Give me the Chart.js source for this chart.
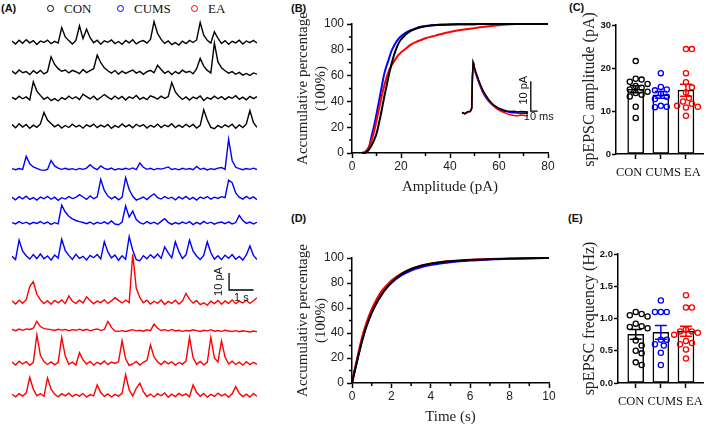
<!DOCTYPE html>
<html>
<head>
<meta charset="utf-8">
<script src="https://cdn.jsdelivr.net/npm/chart.js@4.4.0/dist/chart.umd.min.js"></script>
<style>
  body { margin: 0; background: #fff; }
  #fig { position: relative; width: 709px; height: 426px; overflow: hidden; font-family: "Liberation Sans", Arial, sans-serif; }
  canvas { position: absolute; }
  .plabel { position: absolute; font-weight: bold; font-size: 11px; color: #111; }
  .leg { position: absolute; top: 1px; font-family: "Liberation Serif", "Times New Roman", serif; font-size: 13px; color: #111; white-space: nowrap; }
  .dot { display: inline-block; width: 5px; height: 5px; border: 1.5px solid; border-radius: 50%; margin-right: 10px; vertical-align: 1px; }
</style>
</head>
<body>
<div id="fig">
  <div class="plabel" style="left:1px;top:2px">(A)</div>
  <div class="plabel" style="left:291px;top:2px">(B)</div>
  <div class="plabel" style="left:569px;top:1px">(C)</div>
  <div class="plabel" style="left:291px;top:212px">(D)</div>
  <div class="plabel" style="left:568px;top:212px">(E)</div>
  <div class="leg" style="left:47px"><span class="dot" style="border-color:#000"></span>CON</div>
  <div class="leg" style="left:117px"><span class="dot" style="border-color:#0000ff"></span>CUMS</div>
  <div class="leg" style="left:191px"><span class="dot" style="border-color:#ff0000"></span>EA</div>

  <canvas id="cA" width="245" height="425" style="left:12px;top:0"></canvas>
  <canvas id="cB" width="268" height="200" style="left:290px;top:0"></canvas>
  <canvas id="cInset" width="110" height="80" style="left:455px;top:50px"></canvas>
  <canvas id="cC" width="149" height="200" style="left:560px;top:0"></canvas>
  <canvas id="cD" width="268" height="226" style="left:290px;top:200px"></canvas>
  <canvas id="cE" width="149" height="226" style="left:560px;top:200px"></canvas>
</div>
<script>
// ---------- data ----------
const groups = ['CON', 'CUMS', 'EA'];

// (A) example recordings, pA relative to baseline, 70 samples over 10 s
const TRACE_SECONDS = 10;
const conTrace1 = [0.5,-1.2,1.0,-0.8,1.4,-0.5,0.8,-1.5,0.6,-0.3, 1.1,-1.0,0.4,-0.6,8.5,3.0,0.8,-1.2,0.9,9.5, 2.0,7.5,2.5,-0.4,1.0,-1.3,0.7,-0.2,1.2,-0.9, 0.3,-1.4,0.9,-0.5,1.3,-1.1,0.2,0.8,-0.7,1.5, 12.0,5.0,1.5,-0.8,0.6,-1.6,-0.4,-1.8,0.5,-1.0, 0.9,-0.3,1.2,11.5,4.0,1.0,-0.6,6.0,2.2,-0.9, 0.8,-1.3,0.4,-0.5,1.0,-1.2,0.6,-0.4,0.9,-0.6];
const conTrace2 = [0.6,-1.0,1.2,-0.4,0.3,-1.5,0.8,-0.7,1.0,-1.1, 0.2,9.0,4.5,2.0,0.5,1.2,-0.5,1.0,0.2,-0.9, 1.5,-0.3,0.9,2.0,10.0,5.5,2.5,0.8,-0.6,0.9, -1.2,0.5,-0.8,0.3,1.2,-0.6,0.4,-1.3,0.2,1.0, -0.4,4.0,1.5,-0.7,0.6,-1.4,0.3,-0.9,1.1,-0.2, 0.5,-1.0,2.0,8.0,3.5,1.0,-0.5,17.0,6.0,2.5, 0.8,-0.6,0.3,-1.3,-0.2,-1.8,-0.8,-2.0,-0.5,-1.2];
const conTrace3 = [0.3,-0.9,1.0,-0.5,0.6,-1.2,9.5,4.0,1.5,-0.8, 0.5,-1.6,-0.4,-1.8,0.2,-0.9,1.0,-0.5,0.7,-1.0, 2.2,0.8,-0.6,1.0,-1.1,0.4,2.0,0.5,-0.8,1.1, -0.6,0.9,-1.2,0.7,-0.3,1.4,-0.8,0.3,-1.0,1.2, 0.4,-0.7,1.0,-0.3,0.8,9.0,3.5,1.0,-0.9,0.6, -1.3,0.5,-0.4,1.1,-1.5,0.2,-0.7,1.0,-0.5,0.8, -1.0,0.6,-0.2,1.3,-0.8,0.5,-1.1,0.9,-0.4,0.7];
const conTrace4 = [0.8,-1.1,1.3,-0.6,0.9,-1.4,0.5,-0.8,1.2,8.0, 3.5,1.5,-0.5,0.8,-1.2,0.3,-0.9,1.0,-0.6,0.4, -1.3,0.7,-0.4,1.1,-1.0,0.5,-0.6,0.9,-1.4,0.2, -0.8,1.2,-0.5,0.6,-1.1,1.0,-0.3,0.8,-1.2,0.4, -0.7,1.1,-0.9,0.6,-0.4,1.3,-1.0,0.5,-0.8,1.0, -0.5,0.9,-1.2,0.4,9.5,3.5,-0.8,-1.6,0.3,-1.0, 0.7,-0.5,1.0,-1.3,0.6,-0.9,1.2,9.0,2.0,-0.8];
const cumsTrace1 = [0.2,-0.4,0.3,-0.2,7.5,3.0,1.2,0.4,-0.5,-0.8, -0.3,5.0,1.8,0.5,-0.2,0.4,-0.3,0.2,-0.5,0.3, -0.2,0.5,2.5,0.6,-0.4,1.8,0.4,-0.3,0.5,-0.6, 0.2,-0.3,0.4,-0.2,0.6,-0.4,3.5,1.0,-0.2,0.4, -0.5,0.3,-0.1,0.5,1.2,-0.3,0.2,-0.5,0.4,-0.2, 0.3,-0.4,1.5,-0.2,0.4,-0.6,0.2,-0.3,0.5,0.9, -0.2,17.5,5.0,1.0,0.2,-0.4,0.3,-0.2,0.5,-0.3];
const cumsTrace2 = [0.4,-1.0,0.8,-0.5,1.1,-0.8,0.3,-1.2,0.6,-0.4, 1.0,-0.7,0.5,-1.3,0.2,-0.6,0.9,-0.3,0.4,2.0, 0.6,-0.8,1.2,-0.4,0.7,11.0,4.5,1.2,-0.5,0.8, -1.0,0.4,12.0,5.0,1.0,-1.2,-0.4,0.6,-0.9,1.0, 2.5,0.3,-0.6,0.9,-0.3,0.5,-1.1,0.7,-0.5,1.0, -0.8,0.4,-1.2,0.6,-0.3,0.9,-0.6,0.5,-0.2,0.8, 0.3,10.5,9.0,3.0,0.5,-0.6,1.0,-0.4,0.7,-0.9];
const cumsTrace3 = [0.3,-0.5,0.8,-0.3,0.5,-0.7,0.4,-0.2,0.9,-0.4, 0.6,-0.8,0.2,-0.5,10.5,6.5,4.0,2.5,1.5,0.8, 0.3,-0.4,0.6,-0.7,0.4,-0.3,0.7,-0.5,1.2,-0.6, -1.0,0.5,10.0,3.5,7.0,2.0,0.3,-0.6,0.8,-0.4, 0.5,-0.7,1.0,2.5,0.4,-0.8,0.3,-0.5,0.6,-0.3, 0.8,-0.9,0.4,-0.6,1.0,-0.3,0.5,-0.7,0.2,0.6, -0.4,0.7,-0.5,0.3,4.5,1.5,-0.2,0.6,-0.5,0.4];
const cumsTrace4 = [0.5,-1.5,10.0,3.5,0.8,-1.2,1.5,-0.9,1.8,-1.0, 0.6,-1.8,1.2,-0.6,10.5,3.8,1.0,-1.4,1.6,-0.8, 0.4,-1.7,1.0,-0.4,1.5,-1.1,9.0,3.0,-0.5,1.2, -1.9,0.7,-1.3,12.0,4.0,-1.6,-2.2,0.8,-1.0,1.4, -0.6,1.8,-0.8,6.0,2.5,-0.5,9.0,3.2,-0.9,1.3, 10.0,3.5,0.6,-1.4,1.0,9.0,2.5,-1.2,0.8,-1.6, 1.1,-0.7,1.5,-1.3,0.4,-1.8,1.2,6.5,1.0,-1.5];
const eaTrace1 = [0.6,-1.2,1.0,-0.8,1.3,9.0,12.0,4.5,1.2,-0.9, 0.7,-1.4,0.9,-0.5,1.2,-1.0,3.5,0.4,-0.8,1.0, -0.6,3.0,0.8,-1.1,0.5,-0.4,1.2,-0.9,0.6,2.5, 0.9,-0.6,1.1,-0.4,28.0,8.0,2.5,-0.5,1.0,-1.3, 0.4,-0.8,1.1,-1.5,0.3,-0.9,1.0,-1.2,0.5,5.0, 1.5,-0.7,0.8,-1.6,-0.5,-1.9,0.4,-1.0,0.9,-1.4, 0.6,-0.8,1.2,-1.0,0.5,-0.6,1.0,-0.9,0.7,2.5];
const eaTrace2 = [0.3,-0.4,0.5,-0.2,0.6,0.3,1.0,5.0,2.0,0.8, 0.5,0.2,-0.3,0.4,-0.1,0.3,-0.4,0.2,-0.2,0.5, -0.3,0.4,-0.5,0.2,0.6,-0.2,0.3,5.0,1.5,-0.6, -0.8,-0.4,-0.9,-0.3,0.2,-0.5,-0.2,-0.7,0.1,-0.4, 3.5,1.0,-0.3,0.2,-0.5,0.3,-0.6,-0.2,-0.8,-0.3, -0.6,0.1,-0.4,-0.9,-0.2,-0.5,0.2,-0.7,-0.3,-0.8, -0.2,-0.6,-0.9,-0.4,-1.0,-0.5,-0.8,-1.2,-0.6,-1.0];
const eaTrace3 = [0.5,-1.2,1.0,-0.6,0.8,-1.4,0.4,16.5,4.5,0.8, -0.9,0.6,-1.1,0.3,15.0,4.0,-0.8,0.5,-1.2,6.0, 1.8,-0.6,0.9,-1.3,0.4,-0.7,1.1,-1.0,0.5,-0.3, 0.8,13.0,2.5,-1.5,-0.6,0.9,-1.2,0.4,1.5,10.5, 3.5,0.6,-0.9,1.0,-0.5,0.7,-1.2,0.3,-0.7,1.1, 15.0,3.0,-0.8,0.9,-1.1,0.4,15.0,3.0,0.6,13.0, 3.5,-0.6,1.0,-0.9,0.5,-1.3,0.7,-1.0,0.4,-0.8];
const eaTrace4 = [0.5,-1.0,0.8,-0.6,1.2,10.5,3.5,-0.4,0.9,-0.7, 10.0,3.5,0.6,-1.0,0.8,-0.5,1.1,-0.9,0.4,-0.6, 0.9,-1.2,0.3,-0.5,6.0,1.5,-0.8,0.7,-1.1,0.4, -0.6,1.0,12.0,3.0,-0.5,4.0,7.0,2.0,-0.8,0.6, -1.1,0.8,-0.4,1.2,-1.3,0.5,-0.9,1.0,-0.3,0.7, -1.0,6.0,1.5,-0.7,1.0,-1.2,0.4,-0.8,1.1,-0.5, 0.6,-1.3,0.8,5.0,1.0,-0.9,0.5,-1.2,0.9,-0.7];

// (B) cumulative amplitude distribution, %
const ampBins = [4,5,6,7,8,9,10,11,12,13,14,15,16,17,18,19,20,21,22,24,26,28,30,33,36,40,45,50,55,60,67,80];
const ampCON  = [0,0,0.8,3,6,10,15,23,32,42,51,60,68,75,80.5,85,88,90,92,94.6,96.3,97.5,98.3,99,99.4,99.7,99.8,99.9,100,100,100,100];
const ampCUMS = [0,0.5,2,5,13,21,30,40,50,60,67,72.5,78.5,82.5,86,88.5,90.5,92,93.3,95.2,96.6,97.8,98.5,99.1,99.5,99.7,99.8,99.9,100,100,100,100];
const ampEA   = [0,0.5,2,5,10,16.5,25,34,43,51,58,63.5,67.5,70.5,73.5,76,78,79.5,81,84,86,87.5,89,90.5,92,93.8,95.5,96.8,98,99,100,100];

// (B inset) averaged events, ms vs pA
const insetMs   = [0,4,8,12,14,15,16,17,19,21,24,27,30,34,38,42,46,50,55,60,65,70,75,80,85,90,95];
const insetCON  = [0.2,-0.3,0.4,0.6,1.5,12,16.8,16.0,14.3,13.0,11.0,9.2,7.6,6.0,4.6,3.5,2.6,2.0,1.4,1.0,0.7,0.5,0.6,0.3,0.5,0.4,0.3];
const insetCUMS = [0.1,-0.2,0.3,0.5,1.8,12.5,16.5,15.5,13.6,12.2,10.2,8.4,6.8,5.2,4.0,3.0,2.2,1.6,1.0,0.6,0.4,0.2,0.1,0.0,-0.1,0.0,-0.1];
const insetEA   = [0.3,-0.2,0.2,0.5,1.5,11.5,16.3,15.6,13.9,12.6,10.6,8.8,7.2,5.6,4.2,3.1,2.2,1.4,0.7,0.2,-0.3,-0.6,-0.8,-0.9,-0.7,-0.8,-0.9];

// (C) spEPSC amplitude per cell, pA
const ampCellsCON  = [21.6,17.5,17.3,16.8,16.3,15.8,15.4,15.0,14.5,14.2,13.8,13.4,11.0,8.4];
const ampCellsCUMS = [18.8,15.6,15.0,14.8,14.0,13.3,12.8,11.2,11.0,10.9];
const ampCellsEA   = [24.4,24.4,18.8,16.7,15.5,14.3,13.0,12.2,11.7,11.2,11.0,10.8,8.9];

// (D) cumulative inter-event interval distribution, %
const timeBins  = [0,0.1,0.25,0.5,0.75,1,1.25,1.5,1.75,2,2.5,3,3.5,4,5,6,7,8,9,10];
const timeCON   = [0,7,17,33,46,56,64,70.5,76,80.5,87,91.2,93.8,95.5,97.4,98.5,99.1,99.5,99.8,100];
const timeCUMS  = [0,7,17,33.5,46.5,56.5,64.5,71,76,80,86,90,92.6,94.3,96.6,98,98.8,99.4,99.7,100];
const timeEA    = [0,8,19,36,49,59,67,73.5,78,82,87.5,91.3,93.8,95.6,97.6,98.7,99.2,99.6,99.8,100];

// (E) spEPSC frequency per cell, Hz
const freqCellsCON  = [1.10,1.07,1.05,1.03,0.92,0.88,0.87,0.85,0.66,0.58,0.50,0.46,0.32,0.28];
const freqCellsCUMS = [1.28,1.10,1.10,1.10,0.67,0.67,0.60,0.58,0.47,0.28];
const freqCellsEA   = [1.36,1.17,1.17,0.83,0.80,0.80,0.78,0.75,0.65,0.62,0.60,0.52,0.38];

// ---------- styling ----------
const SANS = '"Liberation Sans", Arial, sans-serif';
const SERIF = '"Liberation Serif", "Times New Roman", serif';
const groupColor = { CON: '#000000', CUMS: '#0000ff', EA: '#ff0000' };

Chart.defaults.font.family = SANS;
Chart.defaults.animation = false;
Chart.defaults.responsive = false;
Chart.defaults.plugins.legend.display = false;
Chart.defaults.plugins.tooltip.enabled = false;

// text next to scale bars, anchored in data units
const scaleText = {
  id: 'scaleText',
  afterDraw(chart, args, opts) {
    const { ctx, scales } = chart;
    (opts.items || []).forEach(it => {
      const px = scales.x.getPixelForValue(it.x) + (it.dx || 0);
      const py = scales.y.getPixelForValue(it.y) + (it.dy || 0);
      ctx.save();
      ctx.translate(px, py);
      if (it.rot) ctx.rotate(it.rot);
      ctx.font = '11px ' + SANS;
      ctx.fillStyle = '#111';
      ctx.textAlign = 'center';
      ctx.textBaseline = 'middle';
      ctx.fillText(it.text, 0, 0);
      ctx.restore();
    });
  }
};

// small unlabeled ticks between the labeled ones
const minorTicks = {
  id: 'minorTicks',
  afterDraw(chart, args, opts) {
    const { ctx, scales: { x, y } } = chart;
    ctx.save();
    ctx.strokeStyle = '#000';
    ctx.lineWidth = 1.5;
    ctx.beginPath();
    for (let v = opts.x; v < x.max; v += opts.x * 2) {
      const px = x.getPixelForValue(v);
      ctx.moveTo(px, x.top); ctx.lineTo(px, x.top + 3);
    }
    for (let v = opts.y; v < y.max; v += opts.y * 2) {
      const py = y.getPixelForValue(v);
      ctx.moveTo(y.right, py); ctx.lineTo(y.right - 3, py);
    }
    ctx.stroke();
    ctx.restore();
  }
};

const errorBars = {
  id: 'errorBars',
  afterDatasetsDraw(chart, args, opts) {
    const { ctx, scales: { x, y } } = chart;
    opts.stats.forEach((s, i) => {
      const px = x.getPixelForValue(i);
      const top = y.getPixelForValue(s.mean + s.sem);
      const bot = y.getPixelForValue(s.mean - s.sem);
      ctx.save();
      ctx.strokeStyle = s.color;
      ctx.lineWidth = 1.5;
      ctx.beginPath();
      ctx.moveTo(px, top); ctx.lineTo(px, bot);
      ctx.moveTo(px - 6, top); ctx.lineTo(px + 6, top);
      ctx.moveTo(px - 6, bot); ctx.lineTo(px + 6, bot);
      ctx.stroke();
      ctx.restore();
    });
  }
};

// ---------- (A) traces ----------
const traceList = [conTrace1, conTrace2, conTrace3, conTrace4, cumsTrace1, cumsTrace2, cumsTrace3, cumsTrace4, eaTrace1, eaTrace2, eaTrace3, eaTrace4];
const traceGroup = ['CON','CON','CON','CON','CUMS','CUMS','CUMS','CUMS','EA','EA','EA','EA'];
const traceBase = [225.3, 207.6, 192.4, 175.9, 150.6, 133.5, 118.8, 98.8, 72.4, 55.9, 36.5, 17.6]; // stacking offset, pA
const SB_X = 8.86, SB_Y = 79.4;  // scale bar corner
const datasetsA = traceList.map((tr, k) => ({
  data: tr.map((v, i) => ({ x: i * TRACE_SECONDS / (tr.length - 1), y: v + traceBase[k] })),
  borderColor: groupColor[traceGroup[k]],
  borderWidth: 1.4,
  pointRadius: 0,
  clip: false
}));
datasetsA.push({
  data: [{ x: SB_X, y: SB_Y + 10 }, { x: SB_X, y: SB_Y }, { x: SB_X + 1, y: SB_Y }],
  borderColor: '#000', borderWidth: 1.3, pointRadius: 0, clip: false
});
new Chart(document.getElementById('cA'), {
  type: 'line',
  data: { datasets: datasetsA },
  options: {
    layout: { padding: 0 },
    scales: {
      x: { type: 'linear', min: 0, max: TRACE_SECONDS, display: false },
      y: { min: 0, max: 250, display: false }
    },
    plugins: {
      scaleText: { items: [
        { text: '10 pA', x: SB_X, y: SB_Y + 5, dx: -10, rot: -Math.PI / 2 },
        { text: '1 s', x: SB_X + 0.5, y: SB_Y, dy: 8 }
      ] }
    }
  },
  plugins: [scaleText]
});

// ---------- (B) and (D) cumulative curves ----------
function axisStyle() {
  return {
    grid: { display: true, drawOnChartArea: false, drawTicks: true, tickLength: 5, tickWidth: 1.5, tickColor: '#000' },
    border: { display: true, color: '#000', width: 1.5 }
  };
}
function cumChart(id, xs, series, cfg) {
  return new Chart(document.getElementById(id), {
    type: 'line',
    data: {
      datasets: series.map(s => ({
        data: xs.map((x, i) => ({ x, y: s.values[i] })),
        borderColor: s.color, borderWidth: 2, pointRadius: 0,
        cubicInterpolationMode: 'monotone', clip: false
      }))
    },
    options: {
      layout: { padding: cfg.padding },
      scales: {
        x: Object.assign(axisStyle(), {
          type: 'linear', min: 0, max: cfg.xMax,
          ticks: { stepSize: cfg.xStep, color: '#222', font: { size: 12 }, padding: 1, maxRotation: 0 },
          title: { display: true, text: cfg.xTitle, color: '#222', font: { family: SERIF, size: 15 }, padding: { top: 0, bottom: cfg.xTitlePad } },
          afterFit: s => { s.height = cfg.xHeight; }
        }),
        y: Object.assign(axisStyle(), {
          min: 0, max: 100,
          ticks: { stepSize: 20, color: '#222', font: { size: 12 }, padding: 3 },
          title: { display: true, text: ['Accumulative percentage', '(100%)'], color: '#222', font: { family: SERIF, size: 15 }, padding: { top: 4, bottom: 0 } },
          afterFit: s => { s.width = 62; }
        })
      },
      plugins: { minorTicks: { x: cfg.xStep / 2, y: 10 } }
    },
    plugins: [minorTicks]
  });
}
cumChart('cB', ampBins, [
  { values: ampCON, color: groupColor.CON },
  { values: ampEA, color: groupColor.EA },
  { values: ampCUMS, color: groupColor.CUMS }
], { xMax: 80, xStep: 20, xTitle: 'Amplitude (pA)', xTitlePad: 4, xHeight: 47, padding: { top: 24, right: 10, left: 0, bottom: 0 } });

cumChart('cD', timeBins, [
  { values: timeCON, color: groupColor.CON },
  { values: timeEA, color: groupColor.EA },
  { values: timeCUMS, color: groupColor.CUMS }
], { xMax: 10, xStep: 2, xTitle: 'Time (s)', xTitlePad: 0, xHeight: 43, padding: { top: 58, right: 9, left: 0, bottom: 0 } });

// inset: averaged events
const IB_X = 99, IB_Y = 0.6;
new Chart(document.getElementById('cInset'), {
  type: 'line',
  data: {
    datasets: [
      { data: insetMs.map((t, i) => ({ x: t, y: insetCON[i] })), borderColor: groupColor.CON },
      { data: insetMs.map((t, i) => ({ x: t, y: insetEA[i] })), borderColor: groupColor.EA },
      { data: insetMs.map((t, i) => ({ x: t, y: insetCUMS[i] })), borderColor: groupColor.CUMS },
      { data: [{ x: IB_X, y: IB_Y + 10 }, { x: IB_X, y: IB_Y }, { x: IB_X + 10, y: IB_Y }], borderColor: '#000', borderWidth: 1.3 }
    ].map(d => Object.assign({ borderWidth: 1.5, pointRadius: 0, clip: false }, d))
  },
  options: {
    layout: { padding: 0 },
    scales: {
      x: { type: 'linear', min: -10.07, max: 148.2, display: false },
      y: { min: -5.67, max: 21, display: false }
    },
    plugins: {
      scaleText: { items: [
        { text: '10 pA', x: IB_X, y: IB_Y + 10, dx: -7, dy: 9, rot: -Math.PI / 2 },
        { text: '10 ms', x: IB_X, y: IB_Y, dx: 8, dy: 6 }
      ] }
    }
  },
  plugins: [scaleText]
});

// ---------- (C) and (E) bar + scatter ----------
function mean(a) { return a.reduce((s, v) => s + v, 0) / a.length; }
function sem(a) {
  const m = mean(a);
  const sd = Math.sqrt(a.reduce((s, v) => s + (v - m) * (v - m), 0) / (a.length - 1));
  return sd / Math.sqrt(a.length);
}
// spread overlapping points sideways (beeswarm), in pixels
function swarm(vals, center, pxPerX, pxPerY) {
  const r = 3, placed = [], out = [];
  vals.map((v, i) => i).sort((a, b) => vals[b] - vals[a]).forEach(i => {
    const py = vals[i] * pxPerY;
    let dx = 0;
    for (let k = 0; k < 14; k++) {
      const cand = k === 0 ? 0 : (k % 2 ? 1 : -1) * Math.ceil(k / 2) * r;
      if (placed.every(p => Math.hypot(p.px - cand, p.py - py) >= 2 * r)) { dx = cand; break; }
    }
    placed.push({ px: dx, py });
    out.push({ x: center + dx / pxPerX, y: vals[i] });
  });
  return out;
}
function groupChart(id, cells, cfg) {
  const pxPerX = 25.5, pxPerY = cfg.plotHeight / cfg.yMax;
  const stats = cells.map((c, i) => ({ mean: mean(c), sem: sem(c), color: groupColor[groups[i]] }));
  const datasets = [{
    type: 'bar',
    data: stats.map((s, i) => ({ x: i, y: s.mean })),
    backgroundColor: '#fff', borderColor: '#000', borderWidth: 1.5,
    borderSkipped: false, barThickness: 16, order: 2
  }];
  cells.forEach((c, i) => datasets.push({
    type: 'scatter',
    data: swarm(c, i, pxPerX, pxPerY),
    borderColor: groupColor[groups[i]], backgroundColor: 'rgba(0,0,0,0)',
    pointRadius: 2.6, pointBorderWidth: 1.3, order: 1
  }));
  return new Chart(document.getElementById(id), {
    type: 'bar',
    data: { datasets },
    options: {
      layout: { padding: cfg.padding },
      scales: {
        x: {
          type: 'linear', min: cfg.xMin, max: 2.706, offset: false,
          grid: { display: true, offset: false, drawOnChartArea: false, drawTicks: true, tickLength: 5, tickWidth: 1.5, tickColor: '#000' },
          border: { display: true, color: '#000', width: 1.5 },
          afterBuildTicks: s => { s.ticks = [0, 1, 2].map(v => ({ value: v })); },
          ticks: { display: false },
          // group names are set as one run of text under the bars, as in the figure
          title: { display: true, text: groups.join(' '), align: 'start', color: '#111', font: { family: SERIF, size: 12.5 }, padding: { top: 0, bottom: cfg.xLabelPad } },
          afterFit: s => { s.height = cfg.xHeight; }
        },
        y: {
          min: 0, max: cfg.yMax,
          grid: { display: true, drawOnChartArea: false, drawTicks: true, tickLength: 4, tickWidth: 1.5, tickColor: '#000' },
          border: { display: true, color: '#000', width: 1.5 },
          ticks: { stepSize: cfg.yStep, color: '#111', font: { size: 9.5, weight: 'bold' }, padding: 1, callback: cfg.yFmt },
          title: { display: true, text: cfg.yTitle, color: '#222', font: { family: SERIF, size: 16 }, padding: { top: 20, bottom: 0 } },
          afterFit: s => { s.width = cfg.yWidth; }
        }
      },
      plugins: { errorBars: { stats } }
    },
    plugins: [errorBars]
  });
}
groupChart('cC', [ampCellsCON, ampCellsCUMS, ampCellsEA], {
  yMax: 30, yStep: 10, yFmt: v => v, yTitle: 'spEPSC amplitude (pA)', plotHeight: 129.3,
  xMin: -0.784, yWidth: 56, xHeight: 46, xLabelPad: 19.5, padding: { top: 25, right: 4, left: 0, bottom: 0 }
});
groupChart('cE', [freqCellsCON, freqCellsCUMS, freqCellsEA], {
  yMax: 2, yStep: 0.5, yFmt: v => v.toFixed(1), yTitle: 'spEPSC frequency (Hz)', plotHeight: 129,
  xMin: -0.706, yWidth: 58, xHeight: 43, xLabelPad: 16.8, padding: { top: 54, right: 4, left: 0, bottom: 0 }
});
</script>
</body>
</html>
